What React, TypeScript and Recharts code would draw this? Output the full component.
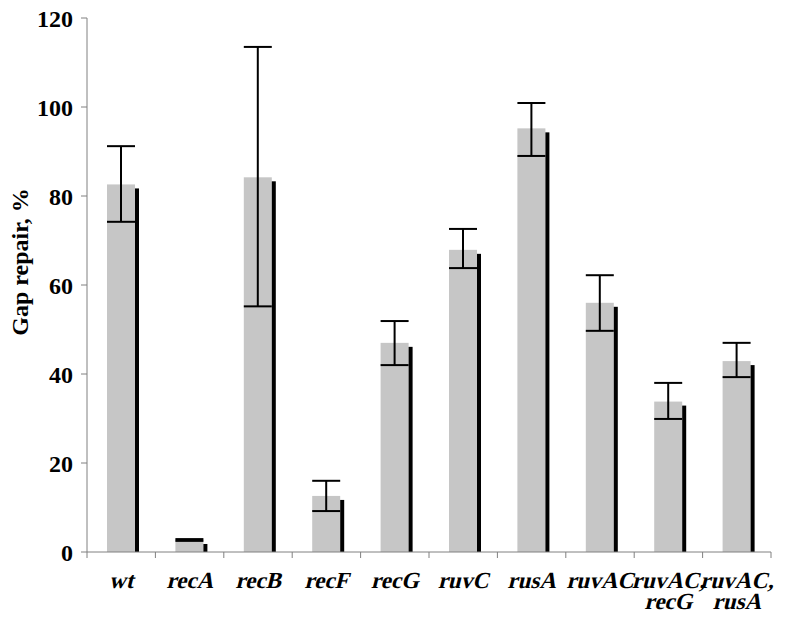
import { BarChart, Bar, XAxis, YAxis, ErrorBar } from "recharts"

const strains = ["wt", "recA", "recB", "recF", "recG", "ruvC", "rusA", "ruvAC", "ruvAC,\nrecG", "ruvAC,\nrusA"]
const repair = [82.6, 2.7, 84.2, 12.6, 47, 67.9, 95.2, 56, 33.8, 42.9]
const errLow = [8.4, 0.2, 29, 3.4, 5, 4.1, 6.2, 6.3, 3.9, 3.6]
const errHigh = [8.6, 0.2, 29.3, 3.4, 4.9, 4.7, 5.7, 6.2, 4.2, 4.1]
const yTicks = [0, 20, 40, 60, 80, 100, 120]

const data = strains.map((s, i) => ({
  strain: s,
  repair: repair[i],
  err: [errLow[i], errHigh[i]],
}))

const FONT = '"Liberation Serif", "Times New Roman", Times, serif'
const BAND = 684 / strains.length

function ShadowBar(props: any) {
  const { x, y, width, height } = props
  return (
    <g>
      <rect x={x} y={y} width={width} height={height} fill="#c6c6c6" />
      <rect x={x + width} y={y + 4} width={4} height={Math.max(height - 4, 0)} fill="#000" />
    </g>
  )
}

// Liberation Serif bold, slanted by hand to look like Times bold italic
function StrainTick(props: any) {
  const { x, y, payload, index } = props
  const lines = String(payload.value).split("\n")
  return (
    <g>
      <line x1={x - BAND / 2} x2={x - BAND / 2} y1={y} y2={y + 6} stroke="#808080" />
      {index === strains.length - 1 && (
        <line x1={x + BAND / 2} x2={x + BAND / 2} y1={y} y2={y + 6} stroke="#808080" />
      )}
      {lines.map((l, i) => (
        <text
          key={i}
          x={0}
          y={0}
          transform={`translate(${x} ${y + 36 + i * 21}) skewX(-14)`}
          textAnchor="middle"
          style={{ fontFamily: FONT, fontWeight: "bold", fontSize: 23 }}
          fill="#000"
        >
          {l}
        </text>
      ))}
    </g>
  )
}

function YLabel(props: any) {
  const { viewBox } = props
  const cy = viewBox.y + viewBox.height / 2 - 23
  const cx = 20
  return (
    <text
      x={cx}
      y={cy}
      transform={`rotate(-90 ${cx} ${cy})`}
      textAnchor="middle"
      dominantBaseline="central"
      style={{ fontFamily: FONT, fontWeight: "bold", fontSize: 24, whiteSpace: "pre" }}
      fill="#000"
    >
      Gap repair, %
    </text>
  )
}

export default function App() {
  return (
    <div style={{ position: "absolute", left: 0, top: 0, background: "#fff", fontFamily: FONT }}>
      <BarChart
        width={800}
        height={620}
        data={data}
        margin={{ top: 18, right: 29, bottom: 0, left: 0 }}
      >
        <XAxis
          dataKey="strain"
          height={68}
          axisLine={{ stroke: "#808080" }}
          tickLine={false}
          tickSize={0}
          tickMargin={0}
          interval={0}
          tick={<StrainTick />}
        />
        <YAxis
          width={87}
          domain={[0, 120]}
          ticks={yTicks}
          axisLine={{ stroke: "#808080" }}
          tickLine={{ stroke: "#808080" }}
          tickSize={6}
          tickMargin={8}
          tick={{ fontFamily: FONT, fontWeight: "bold", fontSize: 24, fill: "#000" }}
          label={{ content: <YLabel /> }}
        />
        <Bar dataKey="repair" barSize={28} shape={<ShadowBar />} isAnimationActive={false}>
          <ErrorBar dataKey="err" width={14} stroke="#000" strokeWidth={2} />
        </Bar>
      </BarChart>
    </div>
  )
}
